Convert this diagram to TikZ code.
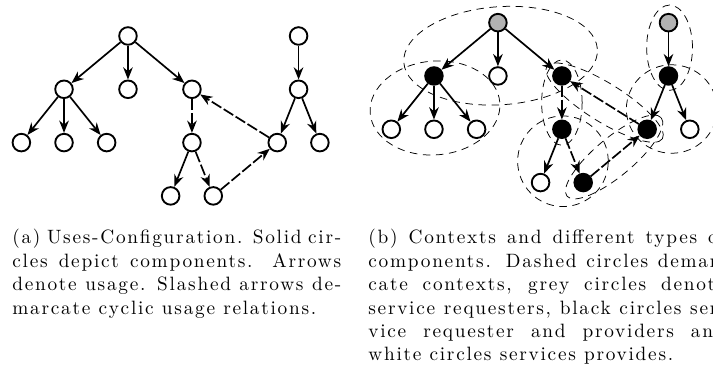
\documentclass[tikz,border=0pt]{standalone}
\usepackage{fontspec}
\newfontfamily\capfont[LetterSpace=9]{lmroman10-regular.otf}
\usepackage{tikz}
\usetikzlibrary{arrows.meta,shapes.geometric}

\tikzset{
  comp/.style={circle, draw, line width=1pt, inner sep=0pt, minimum size=0.33cm, fill=white},
  req/.style={comp, fill=gray!60},
  reqprov/.style={comp, fill=black},
  uses/.style={line width=0.9pt, -{Stealth[length=2.3mm,width=1.8mm]}},
  cyclic/.style={uses, dash pattern=on 6pt off 1.5pt},
  ctx/.style={draw, ellipse, dash pattern=on 4pt off 3pt, line width=0.4pt, inner sep=0pt},
  caption/.style={anchor=base west, inner sep=0pt, align=justify, font=\capfont\fontsize{10.3}{12.5}\selectfont},
}

\begin{document}
\begin{tikzpicture}
\useasboundingbox (-2.401,0.675) rectangle (10.975,-6.341);
\clip (-2.401,0.675) rectangle (10.975,-6.341);

\node[comp] (r) at (0,0) {};
\node[comp] (x) at (-1.2,-1) {};
\node[comp] (y) at (0,-1) {};
\node[comp] (z) at (1.2,-1) {};
\node[comp] (x1) at (-2,-2) {};
\node[comp] (x2) at (-1.2,-2) {};
\node[comp] (x3) at (-0.4,-2) {};
\node[comp] (z1) at (1.2,-2) {};
\node[comp] (z11) at (0.8,-3) {};
\node[comp] (z12) at (1.6,-3) {};
\node[comp] (q) at (3.2,0) {};
\node[comp] (q1) at (3.2,-1) {};
\node[comp] (q11) at (2.8,-2) {};
\node[comp] (q12) at (3.6,-2) {};

\draw[uses] (r) -- (x);
\draw[uses] (r) -- (y);
\draw[uses] (r) -- (z);
\draw[uses] (x) -- (x1);
\draw[uses] (x) -- (x2);
\draw[uses] (x) -- (x3);
\draw[cyclic] (z) -- (z1);
\draw[uses] (z1) -- (z11);
\draw[cyclic] (z1) -- (z12);
\draw[cyclic] (z12) -- (q11);
\draw[cyclic] (q11) -- (z);
\draw[uses] (q) -- (q1);
\draw[uses] (q1) -- (q11);
\draw[uses] (q1) -- (q12);

\begin{scope}[shift={(6.94,0.25)}]
\node[ctx, minimum width=3.64cm, minimum height=1.84cm, rotate=4] (Cr) at (0.05,-0.62) {};
\node[ctx, minimum width=2.44cm, minimum height=1.76cm, rotate=5] (Cx) at (-1.18,-1.6) {};
\node[ctx, minimum width=0.76cm, minimum height=1.6cm] (Cz) at (1.2,-1.5) {};
\node[ctx, minimum width=1.7cm, minimum height=1.7cm] (Cz1) at (1.22,-2.6) {};
\node[ctx, minimum width=2.3cm, minimum height=0.72cm, rotate=39.8] (Cz12) at (2.18,-2.52) {};
\node[ctx, minimum width=2.56cm, minimum height=0.72cm, rotate=-32] (Cq11) at (2.0,-1.5) {};
\node[ctx, minimum width=0.86cm, minimum height=1.6cm] (Cq) at (3.22,-0.47) {};
\node[ctx, minimum width=1.7cm, minimum height=1.66cm] (Cq1) at (3.26,-1.62) {};

\node[req] (Br) at (0,0) {};
\node[reqprov] (Bx) at (-1.2,-1) {};
\node[comp] (By) at (0,-1) {};
\node[reqprov] (Bz) at (1.2,-1) {};
\node[comp] (Bx1) at (-2,-2) {};
\node[comp] (Bx2) at (-1.2,-2) {};
\node[comp] (Bx3) at (-0.4,-2) {};
\node[reqprov] (Bz1) at (1.2,-2) {};
\node[comp] (Bz11) at (0.8,-3) {};
\node[reqprov] (Bz12) at (1.6,-3) {};
\node[req] (Bq) at (3.2,0) {};
\node[reqprov] (Bq1) at (3.2,-1) {};
\node[reqprov] (Bq11) at (2.8,-2) {};
\node[comp] (Bq12) at (3.6,-2) {};

\draw[uses] (Br) -- (Bx);
\draw[uses] (Br) -- (By);
\draw[uses] (Br) -- (Bz);
\draw[uses] (Bx) -- (Bx1);
\draw[uses] (Bx) -- (Bx2);
\draw[uses] (Bx) -- (Bx3);
\draw[cyclic] (Bz) -- (Bz1);
\draw[uses] (Bz1) -- (Bz11);
\draw[cyclic] (Bz1) -- (Bz12);
\draw[cyclic] (Bz12) -- (Bq11);
\draw[cyclic] (Bq11) -- (Bz);
\draw[uses] (Bq) -- (Bq1);
\draw[uses] (Bq1) -- (Bq11);
\draw[uses] (Bq1) -- (Bq12);
\end{scope}

\node[caption, text width=6.17cm] (capa) at (-2.176,-3.90) {(a) Uses-Configuration. Solid cir-\linebreak cles depict components. Arrows\linebreak denote usage. Slashed arrows de-\linebreak marcate cyclic usage relations.};
\node[caption, text width=6.7cm] (capb) at (4.503,-3.90) {(b) Contexts and different types of\linebreak components. Dashed circles demar-\linebreak cate contexts, grey circles denote\linebreak service requesters, black circles ser-\linebreak vice requester and providers and\linebreak white circles services provides.};

\end{tikzpicture}
\end{document}
